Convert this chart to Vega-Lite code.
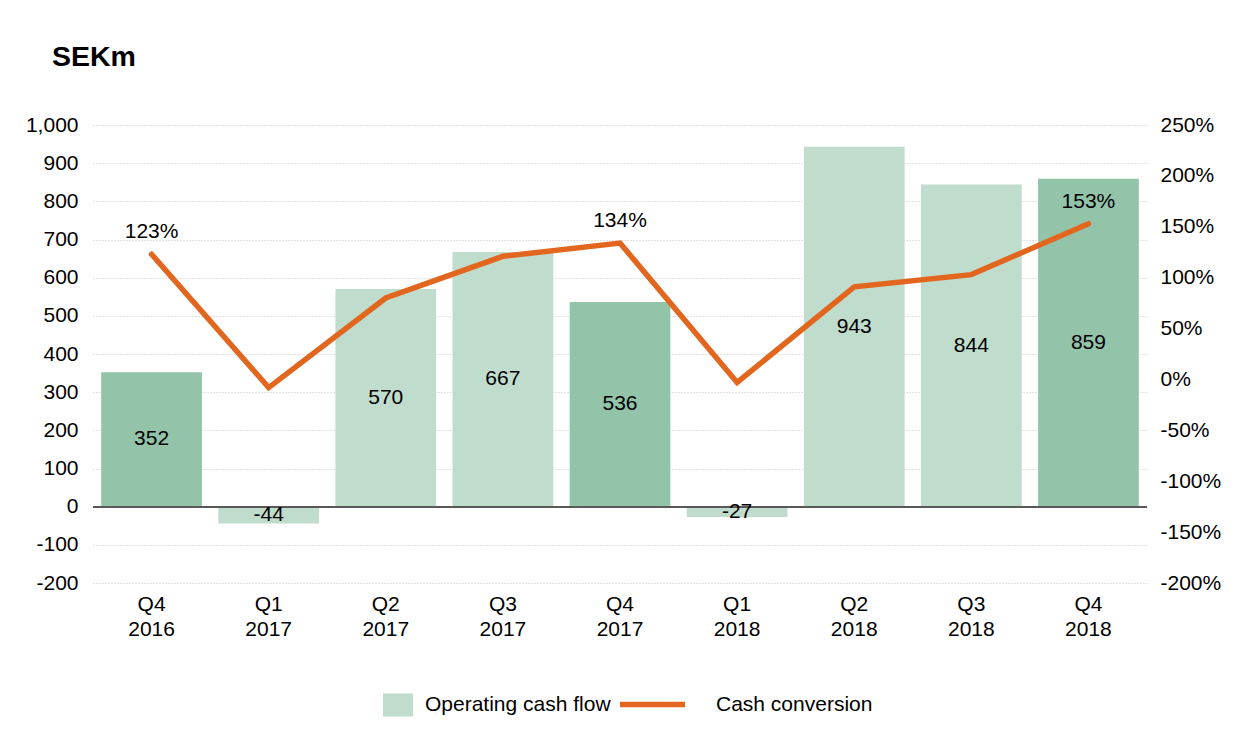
{
  "$schema": "https://vega.github.io/schema/vega-lite/v6.json",
  "width": 1054,
  "height": 458,
  "autosize": {"type": "none"},
  "padding": {"left": 93, "top": 125, "right": 104, "bottom": 156},
  "background": "white",
  "title": {"text": "SEKm", "anchor": "start", "frame": "group", "dx": -41, "offset": 20, "baseline": "alphabetic", "fontSize": 28.5, "font": "Liberation Sans", "fontWeight": "bold", "color": "#000000"},
  "config": {
    "font": "Liberation Sans",
    "locale": {"number": {"decimal": ".", "thousands": ",", "grouping": [3], "currency": ["$", ""], "minus": "-"}},
    "view": {"stroke": null},
    "axis": {"labelFont": "Liberation Sans", "labelFontSize": 21, "labelColor": "#000000", "ticks": false, "domain": false, "title": null, "labelOverlap": false},
    "legend": {"orient": "none", "direction": "horizontal", "labelFont": "Liberation Sans", "labelFontSize": 21, "labelColor": "#000000", "title": null, "labelLimit": 0}
  },
  "data": {"values": [
    {"q": "Q4 2016", "ocf": 352, "cc": 1.23},
    {"q": "Q1 2017", "ocf": -44, "cc": -0.08},
    {"q": "Q2 2017", "ocf": 570, "cc": 0.80},
    {"q": "Q3 2017", "ocf": 667, "cc": 1.21},
    {"q": "Q4 2017", "ocf": 536, "cc": 1.34},
    {"q": "Q1 2018", "ocf": -27, "cc": -0.03},
    {"q": "Q2 2018", "ocf": 943, "cc": 0.91},
    {"q": "Q3 2018", "ocf": 844, "cc": 1.03},
    {"q": "Q4 2018", "ocf": 859, "cc": 1.53}
  ]},
  "layer": [
    {"layer": [
      {"mark": {"type": "bar"},
       "encoding": {
         "x": {"field": "q", "type": "nominal", "sort": null,
           "scale": {"paddingInner": 0.14, "paddingOuter": 0.07},
           "axis": {"labelAngle": 0, "labelExpr": "split(datum.label, ' ')", "labelLineHeight": 25, "labelPadding": 10, "grid": false, "labelBaseline": "top"}},
         "y": {"field": "ocf", "type": "quantitative",
           "scale": {"domain": [-200, 1000], "nice": false},
           "axis": {"values": [-200, -100, 0, 100, 200, 300, 400, 500, 600, 700, 800, 900, 1000], "format": ",.0f", "grid": true, "gridDash": [1, 2], "gridColor": "#c4c4c4", "gridWidth": 1, "labelPadding": 15, "labelOverlap": false}},
         "fill": {"datum": "Operating cash flow", "type": "nominal",
           "scale": {"range": ["#bfdccd"]},
           "legend": {"symbolType": "M-1,-0.77H1V0.77H-1Z", "symbolSize": 900, "symbolStrokeWidth": 0, "labelOffset": 12, "legendX": 290, "legendY": 565},
           "condition": {"test": "indexof(datum.q, 'Q4') === 0", "value": "#93c4aa"}}
       }},
      {"mark": {"type": "rule", "color": "#595959", "strokeWidth": 1.5},
       "encoding": {"y": {"datum": 0, "type": "quantitative",
           "axis": {"values": [-200, -100, 0, 100, 200, 300, 400, 500, 600, 700, 800, 900, 1000], "format": ",.0f", "grid": true, "gridDash": [1, 2], "gridColor": "#c4c4c4", "gridWidth": 1, "labelPadding": 15, "labelOverlap": false}}}},
      {"transform": [{"calculate": "datum.ocf / 2", "as": "mid"}],
       "mark": {"type": "text", "fontSize": 21, "color": "#000000", "font": "Liberation Sans"},
       "encoding": {
         "x": {"field": "q", "type": "nominal", "sort": null,
           "scale": {"paddingInner": 0.14, "paddingOuter": 0.07},
           "axis": {"labelAngle": 0, "labelExpr": "split(datum.label, ' ')", "labelLineHeight": 25, "labelPadding": 10, "grid": false, "labelBaseline": "top"}},
         "y": {"field": "mid", "type": "quantitative",
           "axis": {"values": [-200, -100, 0, 100, 200, 300, 400, 500, 600, 700, 800, 900, 1000], "format": ",.0f", "grid": true, "gridDash": [1, 2], "gridColor": "#c4c4c4", "gridWidth": 1, "labelPadding": 15, "labelOverlap": false}},
         "text": {"field": "ocf", "type": "quantitative", "format": ",.0f"}}}
    ]},
    {"layer": [
      {"mark": {"type": "line", "strokeWidth": 5.5, "strokeCap": "round"},
       "encoding": {
         "x": {"field": "q", "type": "nominal", "sort": null,
           "scale": {"paddingInner": 0.14, "paddingOuter": 0.07},
           "axis": {"labelAngle": 0, "labelExpr": "split(datum.label, ' ')", "labelLineHeight": 25, "labelPadding": 10, "grid": false, "labelBaseline": "top"}},
         "y": {"field": "cc", "type": "quantitative",
           "scale": {"domain": [-2, 2.5], "nice": false},
           "axis": {"orient": "right", "values": [-2, -1.5, -1, -0.5, 0, 0.5, 1, 1.5, 2, 2.5], "format": ".0%", "grid": false, "labelPadding": 13}},
         "stroke": {"datum": "Cash conversion", "type": "nominal",
           "scale": {"range": ["#e3661f"]},
           "legend": {"symbolType": "stroke", "symbolSize": 4225, "symbolStrokeWidth": 5.5, "labelOffset": 28, "legendX": 524, "legendY": 544}}
       }},
      {"transform": [{"filter": "indexof(datum.q, 'Q4') === 0"}],
       "mark": {"type": "text", "fontSize": 21, "color": "#000000", "dy": -22, "font": "Liberation Sans"},
       "encoding": {
         "x": {"field": "q", "type": "nominal", "sort": null,
           "scale": {"paddingInner": 0.14, "paddingOuter": 0.07},
           "axis": {"labelAngle": 0, "labelExpr": "split(datum.label, ' ')", "labelLineHeight": 25, "labelPadding": 10, "grid": false, "labelBaseline": "top"}},
         "y": {"field": "cc", "type": "quantitative",
           "axis": {"orient": "right", "values": [-2, -1.5, -1, -0.5, 0, 0.5, 1, 1.5, 2, 2.5], "format": ".0%", "grid": false, "labelPadding": 13}},
         "text": {"field": "cc", "type": "quantitative", "format": ".0%"}}}
    ]}
  ],
  "resolve": {"scale": {"y": "independent"}}
}
